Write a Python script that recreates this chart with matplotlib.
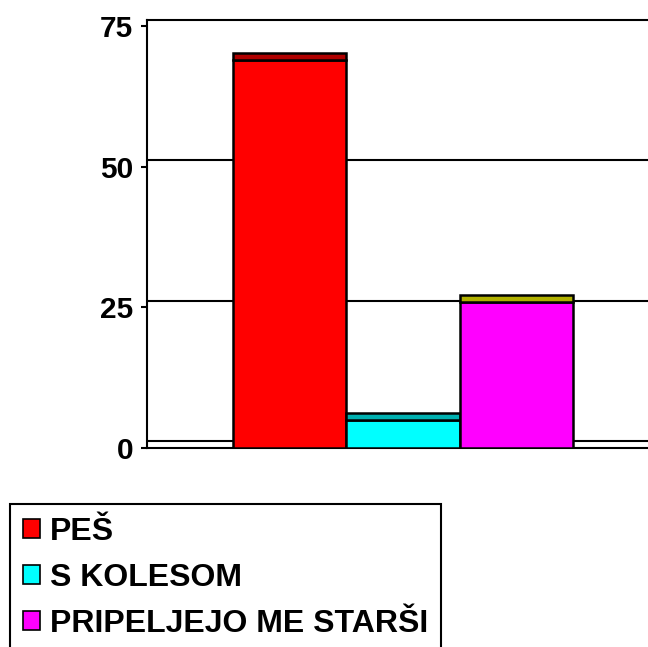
import matplotlib.pyplot as plt
from matplotlib.patches import Patch

plt.rcParams['font.family'] = ['Liberation Sans', 'DejaVu Sans']
plt.rcParams['font.weight'] = 'bold'

categories = ['PEŠ', 'S KOLESOM', 'PRIPELJEJO ME STARŠI']
values = [69, 5, 26]
front_colors = ['#FF0000', '#00FFFF', '#FF00FF']
top_colors = ['#B00000', '#00B0B0', '#B0B000']
ticks = [0, 25, 50, 75]

depth = 1.2  # 3d floor depth, in data units

fig = plt.figure(figsize=(6.48, 6.47), dpi=100)
ax = fig.add_axes([147 / 648, 1 - 448 / 647, 1 - 147 / 648, (448 - 19.7) / 647])

x = list(range(len(values)))
# front faces
for i, v in enumerate(values):
    ax.bar(x[i], v, width=1.0, bottom=-depth, color=front_colors[i],
           edgecolor='black', linewidth=1.8, zorder=3)
    # top faces
    ax.bar(x[i], depth, width=1.0, bottom=v - depth, color=top_colors[i],
           edgecolor='black', linewidth=1.8, zorder=3)

for t in ticks[1:-1]:
    ax.axhline(t, color='black', linewidth=1.5, zorder=1)
ax.axhline(0, color='black', linewidth=1.5, zorder=1)

ax.set_xlim(-1.259, 3.162)
ax.set_ylim(-depth, ticks[-1])
ax.set_xticks([])
ax.set_yticks([t - depth for t in ticks])
ax.set_yticklabels([str(t) for t in ticks])
ax.tick_params(axis='y', length=4, width=1.5, pad=6, labelsize=21.5)
for lab in ax.get_yticklabels():
    lab.set_fontweight('bold')

ax.spines['right'].set_visible(False)
for s in ['left', 'top', 'bottom']:
    ax.spines[s].set_linewidth(1.5)

handles = [Patch(facecolor=c, edgecolor='black', linewidth=1.2)
           for c in front_colors]
leg = fig.legend(handles, categories, loc='upper left',
                 bbox_to_anchor=(10 / 648, 1 - 504 / 647),
                 prop={'weight': 'bold', 'size': 23},
                 handlelength=0.55, handleheight=0.55, handletextpad=0.3,
                 labelspacing=0.5, borderpad=0.4, borderaxespad=0,
                 fancybox=False, framealpha=1)
leg.get_frame().set_edgecolor('black')
leg.get_frame().set_linewidth(1.5)

fig.savefig('out.png', dpi=100)
